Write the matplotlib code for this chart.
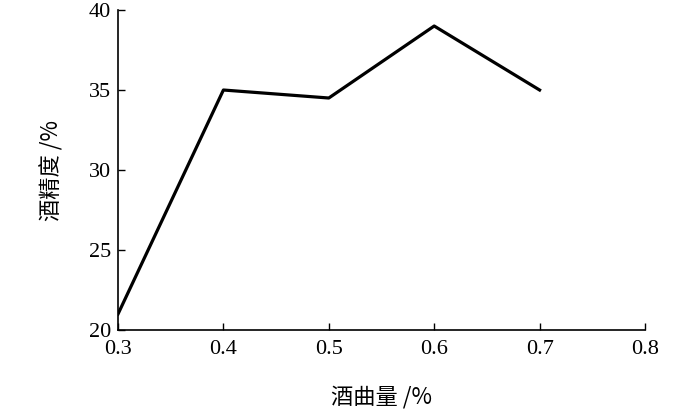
import matplotlib.pyplot as plt

# data
qu_amount = [0.3, 0.4, 0.5, 0.6, 0.7]
alcohol = [21, 35, 34.5, 39, 35]
x_ticks = [0.3, 0.4, 0.5, 0.6, 0.7, 0.8]
y_ticks = [20, 25, 30, 35, 40]

cjk = ['Noto Sans CJK SC', 'DejaVu Sans']
serif = 'Liberation Serif'

fig = plt.figure(figsize=(7, 4.12), dpi=100)
ax = fig.add_axes([0.1686, 0.199, 0.7528, 0.7767])

ax.plot(qu_amount, alcohol, color='black', linewidth=2.3)

ax.set_xlim(0.3, 0.8)
ax.set_ylim(20, 40)
ax.set_xticks(x_ticks)
ax.set_yticks(y_ticks)
ax.set_xticklabels([f'{v:.1f}' for v in x_ticks], fontfamily=serif, fontsize=16)
ax.set_yticklabels([str(v) for v in y_ticks], fontfamily=serif, fontsize=16)
ax.tick_params(direction='in', length=5, width=1)
ax.tick_params(axis='x', pad=7)
ax.tick_params(axis='y', pad=5)

for s in ['top', 'right']:
    ax.spines[s].set_visible(False)
for s in ['left', 'bottom']:
    ax.spines[s].set_linewidth(1.2)

ax.set_xlabel('酒曲量 /%', family=cjk, fontsize=16, labelpad=19)
ax.set_ylabel('酒精度 /%', family=cjk, fontsize=16, labelpad=18)

fig.savefig('out.png', dpi=100)
